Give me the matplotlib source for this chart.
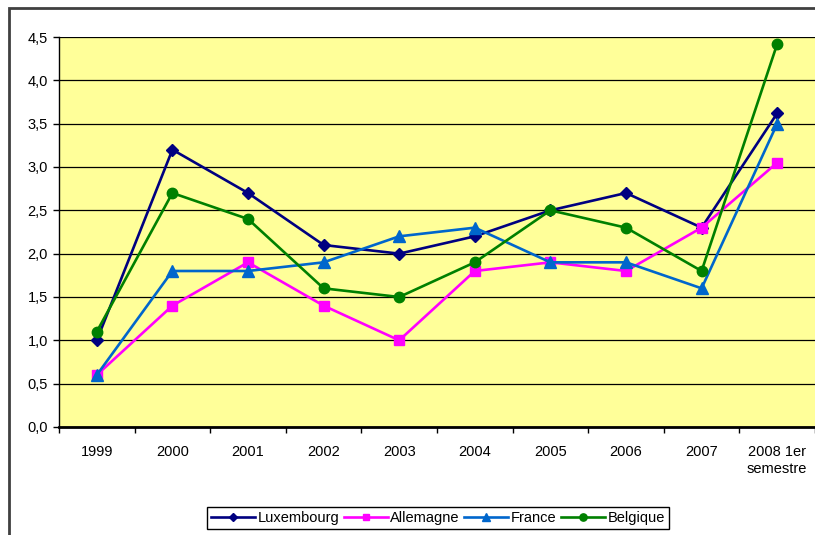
import matplotlib.pyplot as plt
import matplotlib.patches as mpatches
import numpy as np

plt.rcParams['font.family'] = ['Liberation Sans', 'DejaVu Sans']

# categories and series
years = ['1999', '2000', '2001', '2002', '2003', '2004', '2005', '2006', '2007', '2008 1er\nsemestre']
luxembourg = [1.0, 3.2, 2.7, 2.1, 2.0, 2.2, 2.5, 2.7, 2.3, 3.62]
allemagne = [0.6, 1.4, 1.9, 1.4, 1.0, 1.8, 1.9, 1.8, 2.3, 3.05]
france = [0.6, 1.8, 1.8, 1.9, 2.2, 2.3, 1.9, 1.9, 1.6, 3.5]
belgique = [1.1, 2.7, 2.4, 1.6, 1.5, 1.9, 2.5, 2.3, 1.8, 4.42]
yticks = [0.0, 0.5, 1.0, 1.5, 2.0, 2.5, 3.0, 3.5, 4.0, 4.5]

W, H = 815, 535
fig = plt.figure(figsize=(W / 100, H / 100), dpi=100)

# outer chart frame (Excel style)
fig.patches.append(mpatches.Rectangle((9 / W, -0.05), 1.1, 1 - 8 / H + 0.05,
                                      transform=fig.transFigure, fill=False,
                                      edgecolor='#404040', linewidth=2))

ax = fig.add_axes([59 / W, 1 - 427 / H, 1 - 59 / W, (427 - 37) / H])
ax.set_facecolor('#FFFF99')

x = np.arange(len(years))
ax.plot(x, luxembourg, color='#000080', marker='D', markersize=6.5, lw=1.9, label='Luxembourg', clip_on=False)
ax.plot(x, allemagne, color='#FF00FF', marker='s', markersize=7, lw=1.9, label='Allemagne', clip_on=False)
ax.plot(x, france, color='#0066CC', marker='^', markersize=8, lw=1.9, label='France', clip_on=False)
ax.plot(x, belgique, color='#008000', marker='o', markersize=7.5, lw=1.9, label='Belgique', clip_on=False)

ax.set_xlim(-0.5, len(years) - 0.5)
ax.set_ylim(0, 4.5)
ax.set_yticks(yticks)
ax.set_yticklabels([('%.1f' % v).replace('.', ',') for v in yticks], fontsize=10.5)
ax.set_xticks(x)
ax.set_xticklabels(years, fontsize=10.5, linespacing=1.3)
ax.set_xticks(np.arange(len(years) + 1) - 0.5, minor=True)
ax.tick_params(axis='x', which='major', length=0, pad=13)
ax.tick_params(axis='x', which='minor', length=4, width=1, direction='out')
ax.tick_params(axis='y', length=4, width=1, direction='out', pad=4)

ax.grid(axis='y', color='black', linewidth=0.9)
ax.set_axisbelow(True)
for s in ['top', 'right']:
    ax.spines[s].set_visible(False)
ax.spines['left'].set_linewidth(1)
ax.spines['bottom'].set_linewidth(2)

fig.legend(loc='center', bbox_to_anchor=(438 / W, 1 - 518 / H), ncol=4,
           fontsize=10.5, frameon=True, fancybox=False, edgecolor='black',
           framealpha=1, handlelength=3.0, handletextpad=0.2, columnspacing=0.3,
           borderpad=0.3, markerscale=0.7)

fig.savefig('out.png', dpi=100)
